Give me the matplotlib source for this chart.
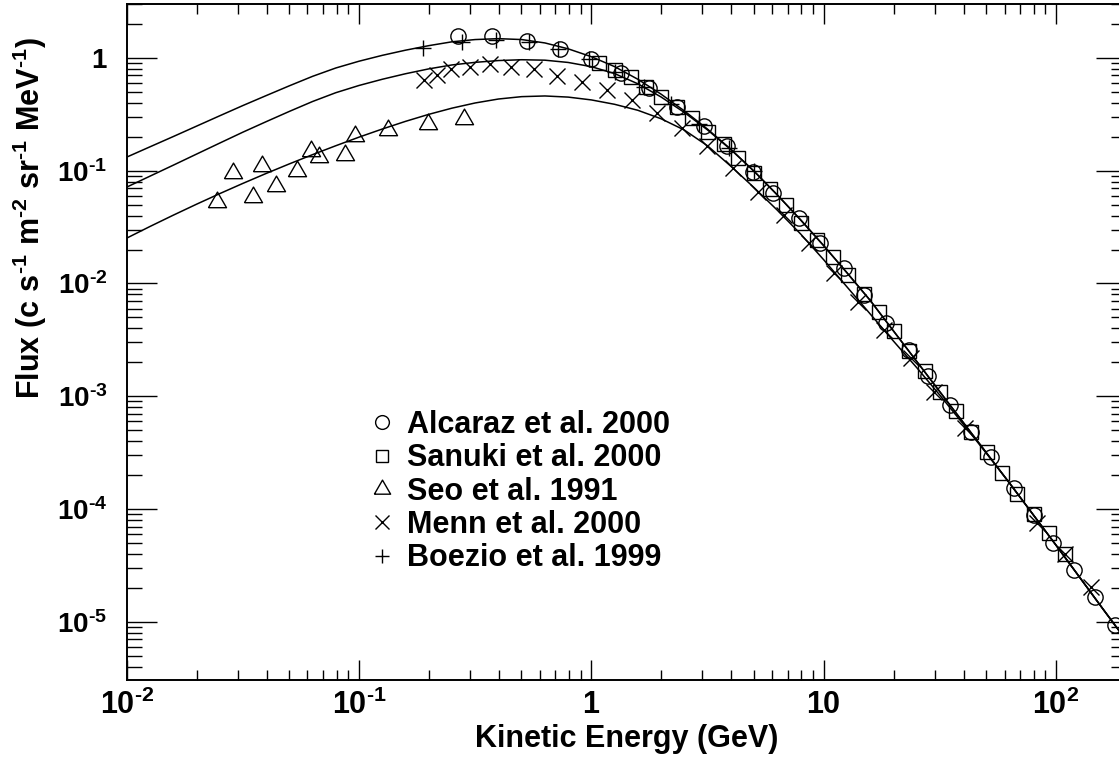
import numpy as np
import matplotlib
matplotlib.use('Agg')
import matplotlib.pyplot as plt
from matplotlib.ticker import FixedLocator, FixedFormatter, LogLocator, NullFormatter

# ---------------- data ----------------
# model curves: energy grid (GeV) and flux
curve_E = [0.01, 0.01259, 0.01585, 0.01995, 0.02512, 0.03162, 0.03981, 0.05012, 0.0631,
           0.07943, 0.1, 0.1259, 0.1585, 0.1995, 0.2512, 0.3162, 0.3981, 0.5012, 0.631,
           0.7943, 1.0, 1.259, 1.585, 1.995, 2.512, 3.162, 3.981, 5.012, 6.31, 7.943, 10.0,
           12.59, 15.85, 19.95, 25.12, 31.62, 39.81, 50.12, 63.1, 79.43, 100.0, 125.9, 158.5,
           200.0]
curve_top_F = [0.1318, 0.1626, 0.2004, 0.2477, 0.3062, 0.3776, 0.4624, 0.5649, 0.6855,
               0.8128, 0.9333, 1.052, 1.169, 1.282, 1.387, 1.452, 1.479, 1.452, 1.355, 1.202,
               1.023, 0.8356, 0.6457, 0.4764, 0.3388, 0.2333, 0.1549, 0.0989, 0.0610,
               0.03673, 0.02163, 0.01245, 0.007079, 0.003802, 0.002042, 0.001096, 5.888e-4,
               3.162e-4, 1.698e-4, 9.016e-5, 4.786e-5, 2.512e-5, 1.318e-5, 6.918e-6]
curve_mid_F = [0.07145, 0.08933, 0.1117, 0.1400, 0.1754, 0.2193, 0.2716, 0.3350, 0.4102,
               0.4909, 0.5689, 0.6457, 0.7228, 0.7980, 0.8650, 0.9120, 0.9460, 0.9620,
               0.9530, 0.9100, 0.8350, 0.7250, 0.5888, 0.4498, 0.3281, 0.2296, 0.1538,
               0.0989, 0.0610, 0.03673, 0.02163, 0.01245, 0.007079, 0.003802, 0.002042,
               0.001096, 5.888e-4, 3.162e-4, 1.698e-4, 9.016e-5, 4.786e-5, 2.512e-5,
               1.318e-5, 6.918e-6]
curve_low_F = [0.02523, 0.03199, 0.04027, 0.05035, 0.06252, 0.07709, 0.09441, 0.1148,
               0.1387, 0.1663, 0.1982, 0.2339, 0.2735, 0.3155, 0.3581, 0.3981, 0.4315,
               0.4529, 0.4592, 0.4487, 0.4236, 0.3873, 0.3428, 0.2884, 0.2291, 0.1660,
               0.1096, 0.07079, 0.04467, 0.02754, 0.01622, 0.009333, 0.005370, 0.003090,
               0.001799, 0.001023, 5.689e-4, 3.126e-4, 1.698e-4, 9.016e-5, 4.786e-5,
               2.512e-5, 1.318e-5, 6.918e-6]

# Alcaraz et al. 2000 (circles)
alcaraz_E = [0.266, 0.374, 0.530, 0.732, 0.993, 1.346, 1.77, 2.33, 3.04, 3.83, 4.94, 6.03,
             7.80, 9.66, 12.2, 14.9, 18.6, 23.2, 28.0, 35.1, 43.2, 52.6, 65.9, 80.4, 97.0,
             119.6, 147.6, 179.0]
alcaraz_F = [1.567, 1.567, 1.42, 1.194, 0.974, 0.741, 0.539, 0.370, 0.249, 0.166, 0.0982,
             0.064, 0.0379, 0.0228, 0.01367, 0.00793, 0.0045, 0.00258, 0.0015, 8.3e-4,
             4.86e-4, 2.88e-4, 1.53e-4, 8.9e-5, 4.99e-5, 2.89e-5, 1.66e-5, 9.4e-6]

# Sanuki et al. 2000 (squares)
sanuki_E = [1.079, 1.26, 1.477, 1.714, 2.003, 2.332, 2.698, 3.162, 3.707, 4.284, 5.023,
            5.887, 6.88, 7.98, 9.36, 10.94, 12.69, 14.87, 17.37, 20.15, 23.39, 27.33, 31.81,
            37.18, 43.14, 50.57, 58.5, 68.1, 80.4, 93.3, 108.9]
sanuki_F = [0.898, 0.783, 0.675, 0.550, 0.454, 0.370, 0.292, 0.222, 0.173, 0.129, 0.0962,
            0.0692, 0.0493, 0.0344, 0.0242, 0.0173, 0.0119, 0.00809, 0.00557, 0.0038,
            0.00254, 0.00168, 0.0011, 7.41e-4, 4.86e-4, 3.23e-4, 2.11e-4, 1.36e-4, 9.06e-5,
            6.1e-5, 4.0e-5]

# Seo et al. 1991 (triangles)
seo_E = [0.0244, 0.0288, 0.0349, 0.0382, 0.0439, 0.0541, 0.0621, 0.067, 0.0873, 0.0957,
         0.133, 0.198, 0.282]
seo_F = [0.0532, 0.095, 0.0582, 0.111, 0.0738, 0.100, 0.148, 0.131, 0.138, 0.201, 0.227,
         0.258, 0.288]

# Menn et al. 2000 (crosses)
menn_E = [0.190, 0.217, 0.249, 0.300, 0.366, 0.449, 0.566, 0.713, 0.908, 1.164, 1.502,
          1.911, 2.443, 3.143, 4.055, 5.20, 6.72, 8.67, 11.1, 14.1, 18.2, 23.8, 29.8, 40.4,
          83.0, 108.9, 141.9]
menn_F = [0.638, 0.707, 0.794, 0.837, 0.879, 0.837, 0.794, 0.692, 0.616, 0.520, 0.424,
          0.324, 0.238, 0.164, 0.105, 0.0653, 0.0402, 0.0228, 0.0123, 0.00691, 0.00388,
          0.00217, 0.0011, 5.2e-4, 7.6e-5, 4.0e-5, 2.06e-5]

# Boezio et al. 1999 (pluses)
boezio_E = [0.189, 0.278, 0.387, 0.537, 0.716, 0.973, 1.27, 1.68, 2.2, 2.9, 3.9, 5.0]
boezio_F = [1.234, 1.395, 1.435, 1.395, 1.194, 0.974, 0.756, 0.55, 0.39, 0.26, 0.16, 0.10]

legend_labels = ['Alcaraz et al. 2000', 'Sanuki et al. 2000', 'Seo et al. 1991',
                 'Menn et al. 2000', 'Boezio et al. 1999']

HY = '\u2010'  # short hyphen used in the exponents
xtick_values = [1e-2, 1e-1, 1, 10, 100]
xtick_labels = [r'$\mathbf{10^{%s2}}$' % HY, r'$\mathbf{10^{%s1}}$' % HY, r'$\mathbf{1}$',
                r'$\mathbf{10}$', r'$\mathbf{10^{2}}$']
ytick_values = [1e-5, 1e-4, 1e-3, 1e-2, 1e-1, 1]
ytick_labels = [r'$\mathbf{10^{%s5}}$' % HY, r'$\mathbf{10^{%s4}}$' % HY,
                r'$\mathbf{10^{%s3}}$' % HY, r'$\mathbf{10^{%s2}}$' % HY,
                r'$\mathbf{10^{%s1}}$' % HY, r'$\mathbf{1}\,$']
xlabel_text = 'Kinetic Energy (GeV)'
ylabel_text = (r'$\mathbf{Flux\ (c\ s^{%s1}\ m^{%s2}\ sr^{%s1}\ MeV^{%s1})}$'
               % (HY, HY, HY, HY))

# ---------------- style ----------------
plt.rcParams['font.family'] = ['Liberation Sans', 'DejaVu Sans']
plt.rcParams['font.weight'] = 'bold'
plt.rcParams['mathtext.fontset'] = 'custom'
plt.rcParams['mathtext.rm'] = 'Liberation Sans:bold'
plt.rcParams['mathtext.bf'] = 'Liberation Sans:bold'
plt.rcParams['mathtext.it'] = 'Liberation Sans:bold'

fig = plt.figure(figsize=(11.19, 7.71), dpi=100)
ax = fig.add_axes([126.7 / 1119, 1 - 680.3 / 771, (1126 - 126.7) / 1119, (680.3 - 4) / 771])
ax.set_xscale('log')
ax.set_yscale('log')
ax.set_xlim(0.01, 200)
ax.set_ylim(3.04e-6, 3.0)

for F in (curve_top_F, curve_mid_F, curve_low_F):
    ax.plot(curve_E, F, color='black', lw=1.1, zorder=2, solid_joinstyle='round')

tri = [(-1, -0.577), (1, -0.577), (0, 1.155), (-1, -0.577)]
common = dict(linestyle='none', color='black', mfc='none', mew=1.0, zorder=3)
h1, = ax.plot(alcaraz_E, alcaraz_F, marker='o', ms=11, **common)
h2, = ax.plot(sanuki_E, sanuki_F, marker='s', ms=10, **common)
h3, = ax.plot(seo_E, seo_F, marker=tri, ms=15, **common)
h4, = ax.plot(menn_E, menn_F, marker='x', ms=11, **common)
h5, = ax.plot(boezio_E, boezio_F, marker='+', ms=11, **common)

ax.xaxis.set_major_locator(FixedLocator(xtick_values))
ax.xaxis.set_major_formatter(FixedFormatter(xtick_labels))
ax.xaxis.set_minor_locator(LogLocator(base=10, subs=np.arange(2, 10), numticks=20))
ax.xaxis.set_minor_formatter(NullFormatter())
ax.yaxis.set_major_locator(FixedLocator(ytick_values))
ax.yaxis.set_major_formatter(FixedFormatter(ytick_labels))
ax.yaxis.set_minor_locator(LogLocator(base=10, subs=np.arange(2, 10), numticks=20))
ax.yaxis.set_minor_formatter(NullFormatter())

ax.tick_params(axis='both', which='both', direction='in', top=True, right=True, width=1.0)
ax.tick_params(axis='x', which='major', length=14.4, pad=7, labelsize=22)
ax.tick_params(axis='x', which='minor', length=7.2)
ax.tick_params(axis='y', which='major', length=21.6, pad=14, labelsize=20)
ax.tick_params(axis='y', which='minor', length=10.8)
for s in ax.spines.values():
    s.set_linewidth(1.4)

ax.set_xlabel(xlabel_text, fontsize=22, fontweight='bold', labelpad=2)
ax.set_ylabel(ylabel_text, fontsize=22)
ax.yaxis.set_label_coords(-0.078, 0.6836)

leg = ax.legend([h1, h2, h3, h4, h5], legend_labels, loc='upper left',
                bbox_to_anchor=(372.5 / 1119, 1 - 410 / 771), bbox_transform=fig.transFigure,
                frameon=False, fontsize=22, handlelength=0.6, handletextpad=0.52,
                labelspacing=0.11, borderpad=0, borderaxespad=0, markerscale=0.9)

fig.savefig('out.png', dpi=100)
